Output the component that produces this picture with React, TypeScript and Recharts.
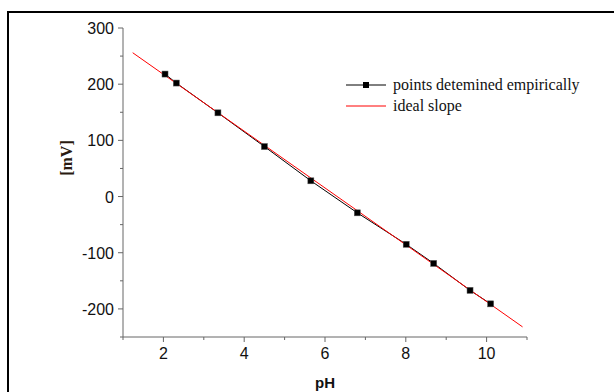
import { LineChart, Line, XAxis, YAxis, Label } from "recharts";

// measured electrode response
const phValues = [2.04, 2.32, 3.35, 4.5, 5.65, 6.8, 8.01, 8.69, 9.59, 10.1];
const mvValues = [218, 202, 149, 89, 28, -29, -85, -119, -167, -191];

// ideal slope line end points
const idealPh = [1.24, 10.89];
const idealMv = [256, -232];

const xTicks = [1, 2, 3, 4, 5, 6, 7, 8, 9, 10, 11];
const yTicks = [-250, -200, -150, -100, -50, 0, 50, 100, 150, 200, 250, 300];

const measured = phValues.map((x, i) => ({ x, y: mvValues[i] }));
const ideal = idealPh.map((x, i) => ({ x, y: idealMv[i] }));

const W = 614;
const H = 392;
const margin = { top: 28, right: 87, bottom: 25, left: 63 };
const yAxisWidth = 60;
const xAxisHeight = 30;
const axisLeft = margin.left + yAxisWidth;
const axisBottom = H - margin.bottom - xAxisHeight;
const axisColor = "#666";
const sans = "'Liberation Sans', Arial, sans-serif";
const serif = "'Liberation Serif', 'Times New Roman', serif";

const YTick = (props: any) => {
  const { y, payload } = props;
  const major = payload.value % 100 === 0;
  return (
    <g>
      <line x1={axisLeft - (major ? 5 : 3)} x2={axisLeft} y1={y} y2={y} stroke={axisColor} />
      {major && (
        <text x={axisLeft - 9} y={y} dy={6} textAnchor="end" fontFamily={sans} fontSize={16} fill="#111">
          {payload.value}
        </text>
      )}
    </g>
  );
};

const XTick = (props: any) => {
  const { x, payload } = props;
  const major = payload.value % 2 === 0;
  return (
    <g>
      <line x1={x} x2={x} y1={axisBottom} y2={axisBottom + (major ? 5 : 3)} stroke={axisColor} />
      {major && (
        <text x={x} y={axisBottom + 22} textAnchor="middle" fontFamily={sans} fontSize={16} fill="#111">
          {payload.value}
        </text>
      )}
    </g>
  );
};

const SquareDot = (props: any) => {
  const { cx, cy } = props;
  if (cx == null || cy == null) return null;
  return <rect x={cx - 3} y={cy - 3} width={6} height={6} fill="#000" stroke="#555" strokeWidth={0.5} />;
};

const LegendBox = () => (
  <div
    style={{
      position: "absolute",
      left: 340,
      top: 74,
      fontFamily: serif,
      fontSize: 16,
      color: "#111",
      lineHeight: "21px",
    }}
  >
    <div style={{ display: "flex", alignItems: "center" }}>
      <svg width={53} height={21}>
        <line x1={6} x2={46} y1={11} y2={11} stroke="#000" />
        <rect x={23} y={8} width={6} height={6} fill="#000" />
      </svg>
      <span>points detemined empirically</span>
    </div>
    <div style={{ display: "flex", alignItems: "center" }}>
      <svg width={53} height={21}>
        <line x1={6} x2={46} y1={11} y2={11} stroke="#ff0000" />
      </svg>
      <span>ideal slope</span>
    </div>
  </div>
);

export default function App() {
  return (
    <div style={{ position: "absolute", left: 0, top: 0, width: W, height: H, background: "#fff", overflow: "hidden" }}>
      <div
        style={{
          position: "absolute",
          left: 7,
          top: 11,
          width: W,
          height: H,
          borderLeft: "2px solid #000",
          borderTop: "2px solid #000",
        }}
      />
      <div style={{ position: "absolute", left: 0, top: 0 }}>
        <LineChart width={W} height={H} margin={margin}>
          <XAxis
            type="number"
            dataKey="x"
            domain={[1, 11]}
            ticks={xTicks}
            interval={0}
            height={xAxisHeight}
            axisLine={{ stroke: axisColor }}
            tickLine={false}
            tick={<XTick />}
            allowDataOverflow
          >
            <Label
              content={() => (
                <text x={325} y={388} textAnchor="middle" fontFamily={sans} fontWeight="bold" fontSize={15} fill="#111">
                  pH
                </text>
              )}
            />
          </XAxis>
          <YAxis
            type="number"
            dataKey="y"
            domain={[-250, 300]}
            ticks={yTicks}
            interval={0}
            width={yAxisWidth}
            axisLine={{ stroke: axisColor }}
            tickLine={false}
            tick={<YTick />}
            allowDataOverflow
          >
            <Label
              content={() => (
                <text
                  x={72}
                  y={158}
                  textAnchor="middle"
                  transform="rotate(-90 72 158)"
                  fontFamily={serif}
                  fontWeight="bold"
                  fontSize={16}
                  fill="#2a1a10"
                >
                  [mV]
                </text>
              )}
            />
          </YAxis>
          <Line
            data={measured}
            dataKey="y"
            name="points detemined empirically"
            stroke="#000"
            strokeWidth={1}
            dot={<SquareDot />}
            activeDot={false}
            isAnimationActive={false}
          />
          <Line
            data={ideal}
            dataKey="y"
            name="ideal slope"
            stroke="#ff0000"
            strokeWidth={1}
            dot={false}
            activeDot={false}
            isAnimationActive={false}
          />
        </LineChart>
      </div>
      <LegendBox />
    </div>
  );
}
